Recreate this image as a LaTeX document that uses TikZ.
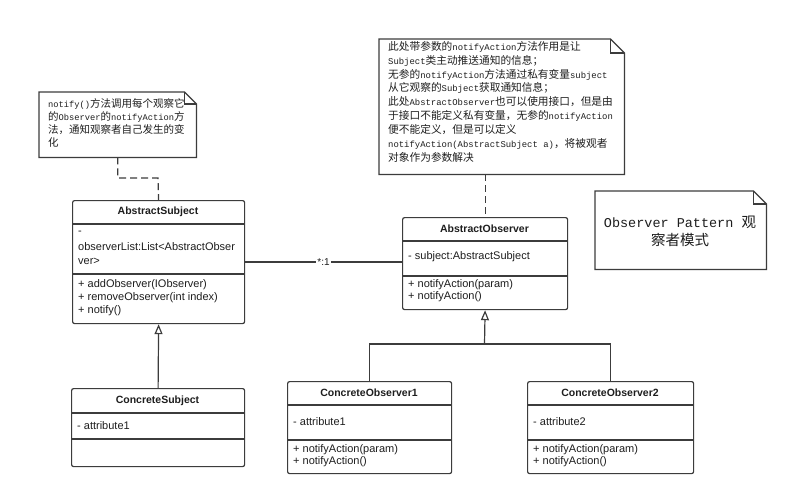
\documentclass[tikz,border=0pt]{standalone}
\usepackage{fontspec}
\usetikzlibrary{arrows.meta}
\setmainfont{Liberation Sans}
\newfontfamily\cjkfont{Noto Sans CJK SC}
\newfontfamily\lmono[Scale=0.833]{Liberation Mono}
\newfontfamily\lmonoB[Scale=0.93]{Liberation Mono}
\def\notelatin{\lmono}
\XeTeXinterchartokenstate=1
\newXeTeXintercharclass\CJKcls
\newcount\cjkcc
\cjkcc="4E00 \loop\XeTeXcharclass\cjkcc=\CJKcls\advance\cjkcc by 1\relax\ifnum\cjkcc<"A000 \repeat
\cjkcc="3000 \loop\XeTeXcharclass\cjkcc=\CJKcls\advance\cjkcc by 1\relax\ifnum\cjkcc<"3040 \repeat
\cjkcc="FF00 \loop\XeTeXcharclass\cjkcc=\CJKcls\advance\cjkcc by 1\relax\ifnum\cjkcc<"FFF0 \repeat
\XeTeXinterchartoks 0 \CJKcls = {\cjkfont}
\XeTeXinterchartoks 4095 \CJKcls = {\cjkfont}
\XeTeXinterchartoks \CJKcls 0 = {\notelatin}
\XeTeXinterchartoks \CJKcls 4095 = {\notelatin}
\definecolor{lc}{HTML}{3C3C3C}
\definecolor{tc}{HTML}{1E1E1E}
\begin{document}
\begin{tikzpicture}[x=1pt,y=-1pt,
  ln/.style={draw=lc, line width=1.2pt},
  dashln/.style={ln, dash pattern=on 7pt off 4pt},
  cls/.style={draw=lc, line width=1.2pt, rounded corners=2pt, inner sep=0pt, anchor=north west},
  ttl/.style={inner sep=0pt, text=tc, font=\bfseries\fontsize{10.5}{12}\selectfont},
  itm/.style={anchor=west, inner sep=0pt, text=tc, font=\fontsize{11}{13}\selectfont},
  gen/.style={ln, -{Triangle[open, fill=white, width=8pt, length=10pt]}},
  notebox/.style={inner sep=0pt, anchor=north west},
  notetxt/.style={inner sep=0pt, anchor=north west, align=left, text=tc}
]
\useasboundingbox (0,0) rectangle (792,500);
\fill[white] (0,0) rectangle (792,500);

% ---- notes ----
\node[notebox, minimum width=157pt, minimum height=65pt] (n1) at (39,92) {};
\draw[ln, fill=white] (n1.north west) -- ([xshift=-12pt]n1.north east) -- ([yshift=-12pt]n1.north east) -- (n1.south east) -- (n1.south west) -- cycle;
\draw[ln] ([xshift=-12pt]n1.north east) |- ([yshift=-12pt]n1.north east);
\node[notetxt, font=\lmono\fontsize{10.5}{13}\selectfont] (t1) at (48,98) {notify()方法调用每个观察它\\的Observer的notifyAction方\\法，通知观察者自己发生的变\\化};

\node[notebox, minimum width=245pt, minimum height=135pt] (n2) at (379,39) {};
\draw[ln, fill=white] (n2.north west) -- ([xshift=-14pt]n2.north east) -- ([yshift=-14pt]n2.north east) -- (n2.south east) -- (n2.south west) -- cycle;
\draw[ln] ([xshift=-14pt]n2.north east) |- ([yshift=-14pt]n2.north east);
\node[notetxt, font=\lmono\fontsize{10.7}{13.9}\selectfont] (t2) at (388,41) {此处带参数的notifyAction方法作用是让\\Subject类主动推送通知的信息；\\无参的notifyAction方法通过私有变量subject\\从它观察的Subject获取通知信息；\\此处AbstractObserver也可以使用接口，但是由\\于接口不能定义私有变量，无参的notifyAction\\便不能定义，但是可以定义\\notifyAction(AbstractSubject a)，将被观者\\对象作为参数解决};

\node[notebox, minimum width=171pt, minimum height=78pt] (n3) at (595,191) {};
\draw[ln, fill=white] (n3.north west) -- ([xshift=-13pt]n3.north east) -- ([yshift=-13pt]n3.north east) -- (n3.south east) -- (n3.south west) -- cycle;
\draw[ln] ([xshift=-13pt]n3.north east) |- ([yshift=-13pt]n3.north east);
\node[inner sep=0pt, align=center, text=tc, font=\def\notelatin{\lmonoB}\lmonoB\fontsize{14.5}{18}\selectfont] (t3) at (680,231) {Observer Pattern 观\\察者模式};

% ---- classes ----
\node[cls, minimum width=172pt, minimum height=123pt] (as) at (72,200) {};
\draw[ln] (as.west |- 0,224) -- (as.east |- 0,224);
\draw[ln] (as.west |- 0,274) -- (as.east |- 0,274);
\node[ttl] (as-t) at (158,212) {AbstractSubject};
\node[itm] (as-a1) at (78,233) {-};
\node[itm] (as-a2) at (78,247) {observerList:List<AbstractObser};
\node[itm] (as-a3) at (78,261) {ver>};
\node[itm] (as-m1) at (78,285) {+ addObserver(IObserver)};
\node[itm] (as-m2) at (78,298) {+ removeObserver(int index)};
\node[itm] (as-m3) at (78,311) {+ notify()};

\node[cls, minimum width=165pt, minimum height=92pt] (ao) at (402,217) {};
\draw[ln] (ao.west |- 0,241) -- (ao.east |- 0,241);
\draw[ln] (ao.west |- 0,276) -- (ao.east |- 0,276);
\node[ttl] (ao-t) at (484.5,229) {AbstractObserver};
\node[itm] (ao-a1) at (408,257) {- subject:AbstractSubject};
\node[itm] (ao-m1) at (408,285) {+ notifyAction(param)};
\node[itm] (ao-m2) at (408,297) {+ notifyAction()};

\node[cls, minimum width=173pt, minimum height=78pt] (cs) at (71,388) {};
\draw[ln] (cs.west |- 0,413) -- (cs.east |- 0,413);
\draw[ln] (cs.west |- 0,439) -- (cs.east |- 0,439);
\node[ttl] (cs-t) at (157.5,401) {ConcreteSubject};
\node[itm] (cs-a1) at (77,426) {- attribute1};

\node[cls, minimum width=164pt, minimum height=92pt] (co1) at (287,381) {};
\draw[ln] (co1.west |- 0,405) -- (co1.east |- 0,405);
\draw[ln] (co1.west |- 0,440) -- (co1.east |- 0,440);
\node[ttl] (co1-t) at (369,393) {ConcreteObserver1};
\node[itm] (co1-a1) at (293,422) {- attribute1};
\node[itm] (co1-m1) at (293,450) {+ notifyAction(param)};
\node[itm] (co1-m2) at (293,462) {+ notifyAction()};

\node[cls, minimum width=166pt, minimum height=92pt] (co2) at (527,381) {};
\draw[ln] (co2.west |- 0,405) -- (co2.east |- 0,405);
\draw[ln] (co2.west |- 0,440) -- (co2.east |- 0,440);
\node[ttl] (co2-t) at (610,393) {ConcreteObserver2};
\node[itm] (co2-a1) at (533,422) {- attribute2};
\node[itm] (co2-m1) at (533,450) {+ notifyAction(param)};
\node[itm] (co2-m2) at (533,462) {+ notifyAction()};

% ---- connectors ----
\coordinate (k1) at (158,178);
\draw[dashln] (n1.south) |- (k1) -- (as.north);
\draw[dashln] (n2.south -| ao.north) -- (ao.north);

\draw[ln] (as.east |- 0,262) -- node[fill=white, inner sep=1pt, text=tc, font=\fontsize{10}{12}\selectfont] (ml) {*:1} (ao.west |- 0,262);

\draw[gen] (cs.north) -- (as.south);

\coordinate (j) at (484.5,344);
\draw[ln] (co1.north) |- (j);
\draw[ln] (co2.north) |- (j);
\draw[gen] (j) -- (ao.south);
\end{tikzpicture}
\end{document}
